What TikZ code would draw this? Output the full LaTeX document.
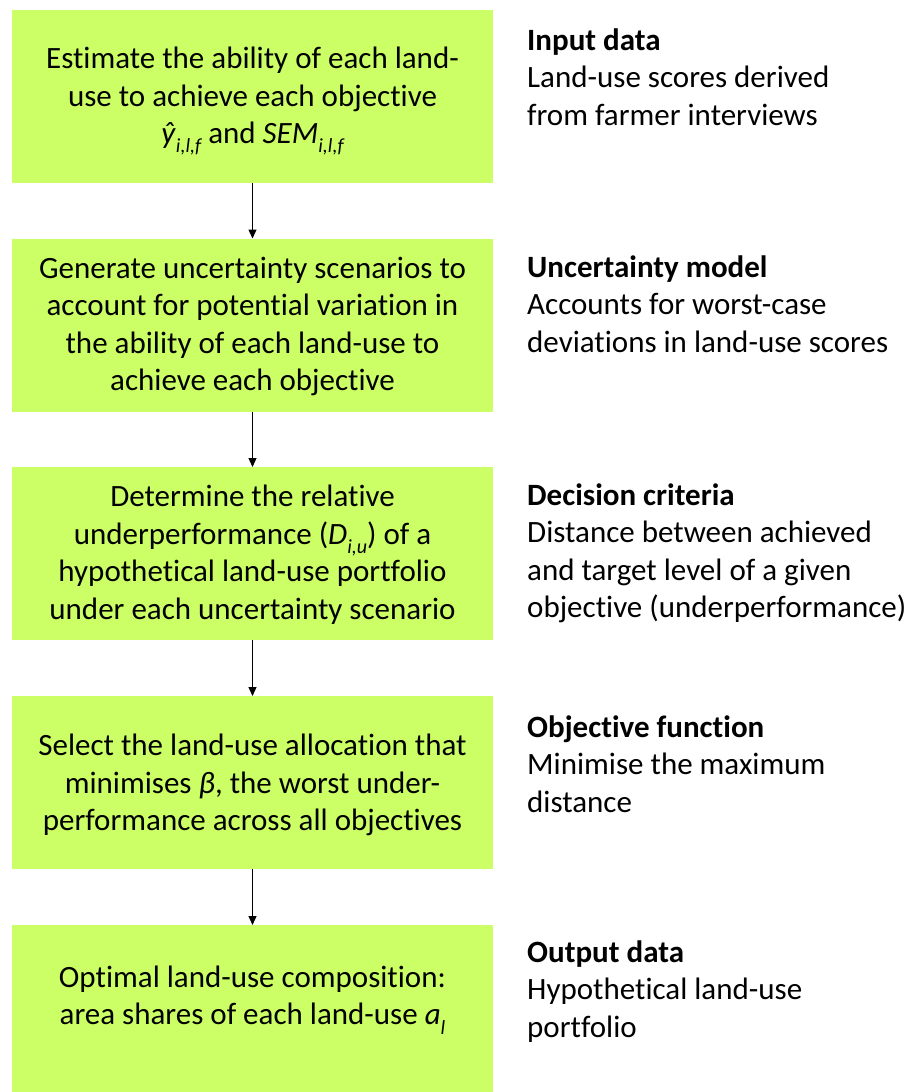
\documentclass[tikz,border=0pt]{standalone}
\usepackage{fontspec}
\setmainfont{Carlito}[Ligatures=CommonOff]
\usetikzlibrary{arrows.meta}
\definecolor{boxgreen}{HTML}{CCFF66}
\newcommand{\lowsub}[1]{\raisebox{-0.3em}{\fontsize{20}{20}\selectfont\itshape #1}}
\begin{document}
\begin{tikzpicture}[x=1pt,y=-1pt,
  boxstyle/.style={fill=boxgreen, draw=none, minimum width=481pt, minimum height=173pt, inner sep=0pt, outer sep=0pt},
  lefttext/.style={align=center, font=\fontsize{31}{37.5}\selectfont, inner sep=0pt},
  righttext/.style={align=left, anchor=north west, font=\fontsize{31}{37.5}\selectfont, inner sep=0pt},
  arr/.style={-{Triangle[length=9pt,width=8pt]}, line width=1.2pt, black}]
\useasboundingbox (0,0) rectangle (910,1092);
\begin{scope}
\clip (0,0) rectangle (910,1092);
\node[boxstyle] (b1) at (252.5,96.5) {};
\node[boxstyle] (b2) at (252.5,325) {};
\node[boxstyle] (b3) at (252.5,553.5) {};
\node[boxstyle] (b4) at (252.5,782.5) {};
\node[boxstyle] (b5) at (252.5,1011.5) {};
\end{scope}
\node[lefttext] (t1) at (252.5,99) {\strut Estimate the ability of each land-\\use to achieve each objective\\\textit{ŷ}\lowsub{i,l,f} and \textit{SEM}\lowsub{i,l,f}\strut};
\node[lefttext] (t2) at (252.5,327) {\strut Generate uncertainty scenarios to\\account for potential variation in\\the ability of each land-use to\\achieve each objective\strut};
\node[lefttext] (t3) at (252.5,555.5) {\strut Determine the relative\\underperformance (\textit{D}\lowsub{i,u}) of a\\hypothetical land-use portfolio\\under each uncertainty scenario\strut};
\node[lefttext] (t4) at (252.5,785.5) {\strut Select the land-use allocation that\\minimises \textit{β}, the worst under-\\performance across all objectives\strut};
\node[lefttext] (t5) at (252.5,998.5) {\strut Optimal land-use composition:\\area shares of each land-use \textit{a}\lowsub{l}\strut};
\node[righttext] (r1) at (527,23.75) {\strut\textbf{Input data}\\Land-use scores derived\\from farmer interviews};
\node[righttext] (r2) at (527,250.75) {\strut\textbf{Uncertainty model}\\Accounts for worst-case\\deviations in land-use scores};
\node[righttext] (r3) at (527,478.75) {\strut\textbf{Decision criteria}\\Distance between achieved\\and target level of a given\\objective (underperformance)};
\node[righttext] (r4) at (527,710.75) {\strut\textbf{Objective function}\\Minimise the maximum\\distance};
\node[righttext] (r5) at (527,935.75) {\strut\textbf{Output data}\\Hypothetical land-use\\portfolio};
\draw[arr] (b1.south) -- (b2.north);
\draw[arr] (b2.south) -- (b3.north);
\draw[arr] (b3.south) -- (b4.north);
\draw[arr] (b4.south) -- (b5.north);
\end{tikzpicture}
\end{document}
